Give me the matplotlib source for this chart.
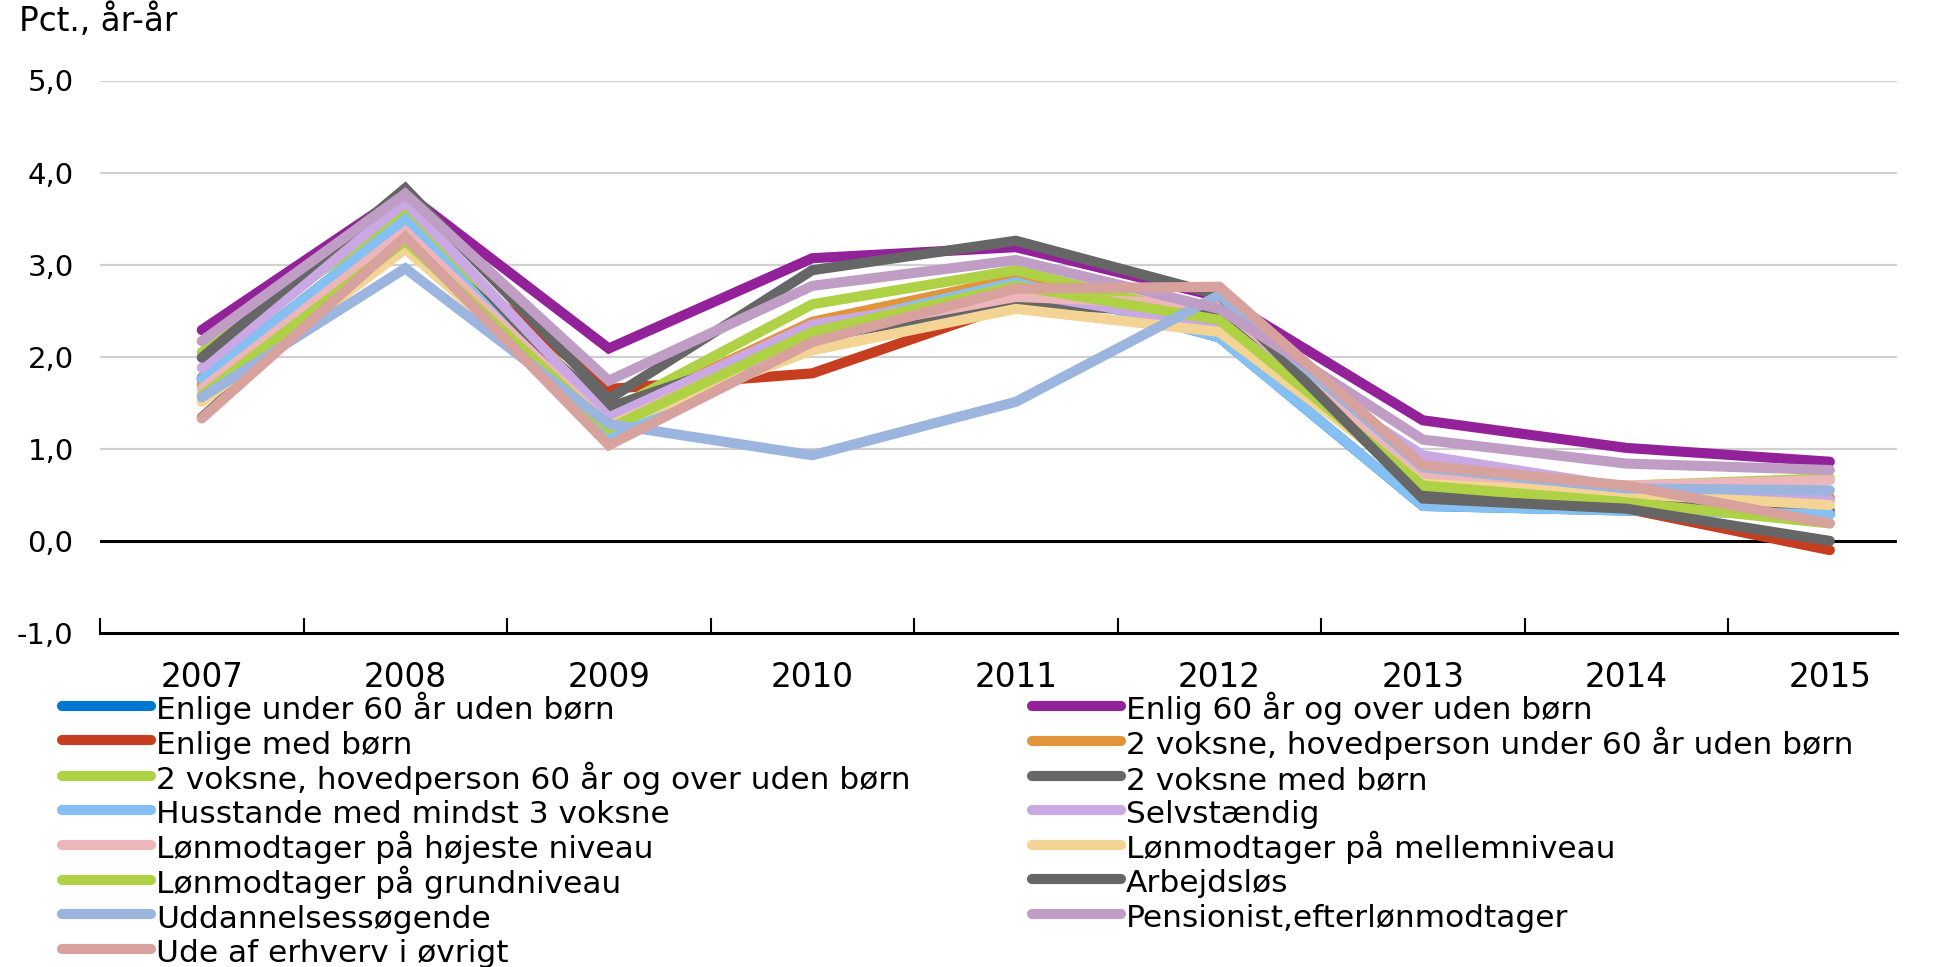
import matplotlib
matplotlib.use("Agg")
import matplotlib.pyplot as plt
import numpy as np

years = ["2007", "2008", "2009", "2010", "2011", "2012", "2013", "2014", "2015"]

labels = [
    "Enlige under 60 år uden børn",
    "Enlig 60 år og over uden børn",
    "Enlige med børn",
    "2 voksne, hovedperson under 60 år uden børn",
    "2 voksne, hovedperson 60 år og over uden børn",
    "2 voksne med børn",
    "Husstande med mindst 3 voksne",
    "Selvstændig",
    "Lønmodtager på højeste niveau",
    "Lønmodtager på mellemniveau",
    "Lønmodtager på grundniveau",
    "Arbejdsløs",
    "Uddannelsessøgende",
    "Pensionist,efterlønmodtager",
    "Ude af erhverv i øvrigt",
]

colors = ["#0078d2", "#92219a", "#c63d1f", "#e2943a", "#afd145", "#666666",
          "#86c0f2", "#c9a8e3", "#edb6ba", "#f3d495", "#afd145", "#666666",
          "#9bb5df", "#bf9dc4", "#d7a19e"]

enlige_u60 = [1.76, 3.49, 1.13, 2.30, 2.81, 2.21, 0.38, 0.33, 0.29]
enlig_60 = [2.29, 3.78, 2.09, 3.07, 3.19, 2.65, 1.31, 1.01, 0.86]
enlige_boern = [1.77, 3.39, 1.65, 1.82, 2.58, 2.52, 0.55, 0.35, -0.10]
to_u60 = [1.70, 3.35, 1.35, 2.38, 2.85, 2.45, 0.58, 0.44, 0.47]
to_60 = [2.05, 3.55, 1.40, 2.57, 2.94, 2.40, 0.64, 0.60, 0.68]
to_boern = [1.34, 3.35, 1.45, 2.20, 2.59, 2.45, 0.55, 0.42, 0.33]
husstande = [1.76, 3.49, 1.13, 2.30, 2.81, 2.21, 0.38, 0.33, 0.29]
selvst = [1.88, 3.68, 1.34, 2.35, 2.70, 2.34, 0.93, 0.58, 0.44]
hoejeste = [1.65, 3.36, 1.25, 2.25, 2.65, 2.56, 0.73, 0.60, 0.66]
mellem = [1.51, 3.17, 1.25, 2.07, 2.52, 2.27, 0.62, 0.51, 0.39]
grund = [1.58, 3.26, 1.22, 2.27, 2.77, 2.40, 0.60, 0.42, 0.19]
arbejdsloes = [1.99, 3.83, 1.54, 2.94, 3.26, 2.67, 0.46, 0.35, 0.00]
uddannelse = [1.56, 2.96, 1.27, 0.93, 1.51, 2.67, 0.80, 0.57, 0.55]
pension = [2.17, 3.77, 1.74, 2.77, 3.05, 2.52, 1.10, 0.84, 0.77]
ude = [1.33, 3.30, 1.04, 2.16, 2.74, 2.76, 0.82, 0.60, 0.19]

series = [enlige_u60, enlig_60, enlige_boern, to_u60, to_60, to_boern, husstande,
          selvst, hoejeste, mellem, grund, arbejdsloes, uddannelse, pension, ude]

W, H = 1943, 967
fig = plt.figure(figsize=(W / 100, H / 100), dpi=100)
ax = fig.add_axes([100 / W, 1 - 633 / H, (1897 - 100) / W, (633 - 80.5) / H])

x = np.arange(len(years))
handles = []
for vals, lab, col in zip(series, labels, colors):
    ln, = ax.plot(x, vals, color=col, lw=7.3, label=lab,
                  solid_capstyle="round", solid_joinstyle="miter")
    handles.append(ln)

ax.set_xlim(-0.5, 8.33)
ax.set_ylim(-1, 5)
for yv in [1, 2, 3, 4, 5]:
    ax.axhline(yv, color="#d0d0d0", lw=1.6, zorder=0)
ax.axhline(0, color="black", lw=2.2, zorder=0.5)

for s in ["top", "right", "left"]:
    ax.spines[s].set_visible(False)
ax.spines["bottom"].set_linewidth(2.2)

ax.set_yticks([-1, 0, 1, 2, 3, 4, 5])
ax.set_yticklabels([f"{v:.1f}".replace(".", ",") for v in [-1, 0, 1, 2, 3, 4, 5]],
                   fontsize=21)
ax.tick_params(axis="y", length=0, pad=19)

ax.set_xticks(x)
ax.set_xticklabels(years, fontsize=23.5)
ax.set_xticks(np.arange(-0.5, 8.0, 1), minor=True)
ax.tick_params(axis="x", which="major", length=0, pad=20)
ax.tick_params(axis="x", which="minor", direction="in", length=11, width=1.5)

fig.text(19 / W, 1 - 21 / H, "Pct., år-år", fontsize=23.5, va="center", ha="left")

# uniform rows: handle box taller than any label so every row is the same height
leg_kw = dict(frameon=False, fontsize=22.5, handlelength=2.85, handletextpad=0.16,
              handleheight=1.18, labelspacing=0.06, borderpad=0, borderaxespad=0)
leg1 = fig.legend(handles[0::2], labels[0::2], loc="upper left",
                  bbox_to_anchor=(62 / W, 1 - 692 / H), **leg_kw)
leg2 = fig.legend(handles[1::2], labels[1::2], loc="upper left",
                  bbox_to_anchor=(1032 / W, 1 - 692 / H), **leg_kw)

fig.savefig("out.png", dpi=100)
